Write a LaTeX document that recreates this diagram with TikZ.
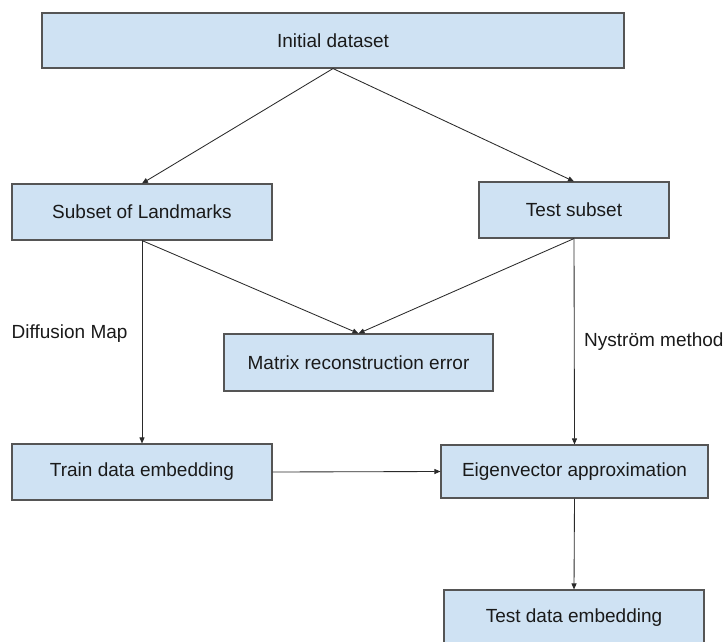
\documentclass[tikz,border=0pt]{standalone}
\usepackage{fontspec}
\setmainfont{Liberation Sans}
\usetikzlibrary{arrows.meta}
\definecolor{boxfill}{HTML}{CFE2F3}
\definecolor{boxline}{HTML}{555555}
\definecolor{arrowline}{HTML}{2A2A2A}
\definecolor{txt}{HTML}{1A1A1A}
\begin{document}
\begin{tikzpicture}[x=1pt,y=-1pt,
  box/.style={draw=boxline, fill=boxfill, line width=1.1pt, inner sep=0pt,
    font=\fontsize{19}{23}\selectfont, text=txt},
  flow/.style={draw=arrowline, line width=0.85pt,
    -{Triangle[length=6pt,width=5pt]}},
  lbl/.style={font=\fontsize{19}{23}\selectfont, text=txt, inner sep=0pt, anchor=west}]
\useasboundingbox (0,0) rectangle (725,642);
\clip (0,0) rectangle (725,642);

% process boxes
\node[box, minimum width=582pt, minimum height=55pt] (init) at (333,40.5) {Initial dataset};
\node[box, minimum width=260pt, minimum height=56pt] (sub) at (142,212) {Subset of Landmarks};
\node[box, minimum width=190pt, minimum height=56pt] (test) at (574,210) {Test subset};
\node[box, minimum width=269pt, minimum height=57pt] (matrix) at (358.5,362.5) {Matrix reconstruction error};
\node[box, minimum width=260pt, minimum height=56pt] (train) at (142,472) {Train data embedding};
\node[box, minimum width=267pt, minimum height=53pt] (eigen) at (574.5,471.5) {Eigenvector approximation};
\node[box, minimum width=260pt, minimum height=56pt] (testemb) at (574,618) {Test data embedding};

% side labels
\node[lbl] (dmap) at (11.5,334) {Diffusion Map};
\node[lbl] (nys) at (584,342) {Nyström method};

% connectors
\draw[flow] (init.south) -- (sub.north);
\draw[flow] (init.south) -- (test.north);
\draw[flow] (sub.south) -- (train.north);
\draw[flow] (sub.south) -- (matrix.north);
\draw[flow] (test.south) -- (matrix.north);
\draw[flow] (test.south) -- (eigen.north);
\draw[flow] (train.east) -- (eigen.west);
\draw[flow] (eigen.south) -- (testemb.north);
\end{tikzpicture}
\end{document}
